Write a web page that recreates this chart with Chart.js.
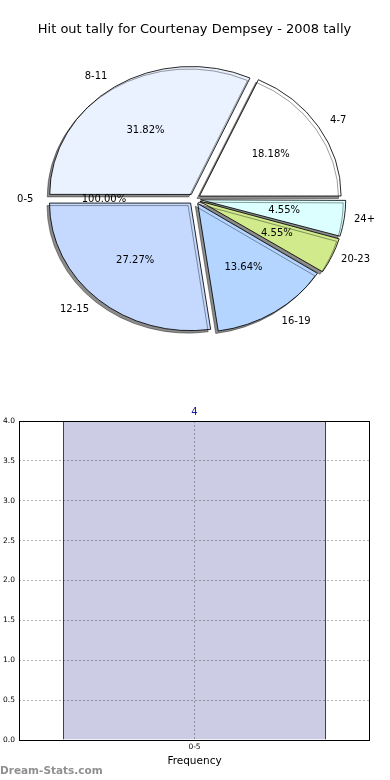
<!DOCTYPE html>
<html>
<head>
<meta charset="utf-8">
<script src="https://cdn.jsdelivr.net/npm/chart.js@4.4.1/dist/chart.umd.min.js"></script>
<style>
  html, body { margin: 0; padding: 0; background: #fff; }
  body { width: 390px; height: 780px; position: relative; overflow: hidden; font-family: 'DejaVu Sans', sans-serif; }
  .box { position: absolute; left: 0; width: 390px; }
  #pieBox { top: 0; height: 380px; }
  #barBox { top: 390px; height: 390px; }
  .watermark { position: absolute; left: 0; top: 764px; font: bold 10.5px 'DejaVu Sans', sans-serif; color: #909090; }
</style>
</head>
<body>
<div class="box" id="pieBox"><canvas id="pieChart"></canvas></div>
<div class="box" id="barBox"><canvas id="barChart"></canvas></div>
<div class="watermark">Dream-Stats.com</div>
<script>
// pie data, in the order the reference draws it (counter-clockwise from 3 o'clock)
const categories = ['4-7', '8-11', '0-5', '12-15', '16-19', '20-23', '24+'];
const tally = [4, 7, 0, 6, 3, 1, 1];
const pctText = ['18.18%', '31.82%', '100.00%', '27.27%', '13.64%', '4.55%', '4.55%'];
const sliceColors = ['#ffffff', '#eaf1ff', '#ffffff', '#c5d9ff', '#b4d5ff', '#d0ea8c', '#dcffff'];

// bar data
const barCategories = ['0-5'];
const frequency = [4];

Chart.defaults.font.family = "'DejaVu Sans', sans-serif";
Chart.defaults.color = '#000';

// chart.js goes clockwise, so feed the slices reversed
const rev = (a) => a.slice().reverse();
const xStretch = 1.106; // reference pie is an ellipse, wider than tall

const ellipsePlugin = {
  id: 'ellipse',
  beforeDatasetsDraw(chart) {
    const el = chart.getDatasetMeta(0).data[0];
    const ctx = chart.ctx;
    ctx.save();
    ctx.translate(el.x, el.y);
    ctx.scale(xStretch, 1);
    ctx.translate(-el.x, -el.y);
    ctx.shadowColor = 'rgba(0,0,0,0.45)';
    ctx.shadowOffsetX = -2.5;
    ctx.shadowOffsetY = 2.5;
    ctx.shadowBlur = 0.5;
  },
  afterDatasetsDraw(chart) {
    chart.ctx.restore();
  },
};

const pieLabels = {
  id: 'pieLabels',
  afterDraw(chart) {
    const ctx = chart.ctx;
    const pct = rev(pctText);
    const names = chart.data.labels;
    ctx.save();
    ctx.font = "10px 'DejaVu Sans', sans-serif";
    ctx.fillStyle = '#000';
    ctx.textBaseline = 'middle';
    chart.getDatasetMeta(0).data.forEach((el, i) => {
      const mid = (el.startAngle + el.endAngle) / 2;
      const c = Math.cos(mid), s = Math.sin(mid);
      const d = (el.options.offset || 0) / 4;
      const cx = el.x + d * c * xStretch;
      const cy = el.y + d * s;
      const r = el.outerRadius;
      ctx.textAlign = c > 0 ? 'left' : 'right';
      ctx.fillText(names[i], cx + 1.1 * r * c * xStretch, cy + 1.1 * r * s);
      ctx.textAlign = 'center';
      ctx.fillText(pct[i], cx + 0.6 * r * c * xStretch, cy + 0.6 * r * s);
    });
    ctx.restore();
  },
};

const framePlugin = {
  id: 'frame',
  afterDraw(chart) {
    const { ctx, chartArea: a } = chart;
    ctx.save();
    ctx.strokeStyle = '#000';
    ctx.lineWidth = 1;
    ctx.strokeRect(Math.round(a.left) + 0.5, Math.round(a.top) + 0.5,
      Math.round(a.right - a.left) - 1, Math.round(a.bottom - a.top));
    ctx.restore();
  },
};

const barValueLabel = {
  id: 'barValueLabel',
  afterDatasetsDraw(chart) {
    const ctx = chart.ctx;
    const ds = chart.data.datasets[0];
    ctx.save();
    ctx.font = "10px 'DejaVu Sans', sans-serif";
    ctx.fillStyle = '#1a1aa6';
    ctx.textAlign = 'center';
    ctx.textBaseline = 'middle';
    chart.getDatasetMeta(0).data.forEach((el, i) => {
      ctx.fillText(String(ds.data[i]), el.x, el.y - 9);
    });
    ctx.restore();
  },
};

function initPie() {
  new Chart(document.getElementById('pieChart'), {
    type: 'pie',
    data: {
      labels: rev(categories),
      datasets: [{
        data: rev(tally),
        backgroundColor: rev(sliceColors),
        borderColor: '#000',
        borderWidth: 0.8,
        offset: 21.6,
        hoverOffset: 0,
      }],
    },
    options: {
      responsive: true,
      maintainAspectRatio: false,
      animation: false,
      rotation: 90,
      radius: 127.5,
      layout: { padding: { top: 12, bottom: 29.6, left: 0, right: 1 } },
      plugins: {
        legend: { display: false },
        tooltip: { enabled: false },
        title: {
          display: true,
          text: 'Hit out tally for Courtenay Dempsey - 2008 tally',
          color: '#000',
          font: { size: 13, weight: 'normal' },
          padding: { top: 10, bottom: 10 },
        },
      },
    },
    plugins: [ellipsePlugin, pieLabels],
  });
}

function initBar() {
  new Chart(document.getElementById('barChart'), {
    type: 'bar',
    data: {
      labels: barCategories,
      datasets: [{
        data: frequency,
        backgroundColor: '#ccccE5',
        borderColor: '#000080',
        borderWidth: 1,
        barPercentage: 0.75,
        categoryPercentage: 1,
      }],
    },
    options: {
      responsive: true,
      maintainAspectRatio: false,
      animation: false,
      layout: { padding: { top: 31, right: 20, left: 0, bottom: 0 } },
      plugins: {
        legend: { display: false },
        tooltip: { enabled: false },
      },
      scales: {
        x: {
          grid: { z: 1, offset: false, drawTicks: false, color: 'rgba(0,0,0,0.3)', lineWidth: 1 },
          border: { display: false, dash: [2, 2] },
          ticks: { font: { size: 7.5 }, color: '#000', padding: 3 },
          title: {
            display: true,
            text: 'Frequency',
            color: '#000',
            font: { size: 10.5 },
            padding: { top: 0, bottom: 12.7 },
          },
          afterFit: (s) => { s.height = 40; },
        },
        y: {
          min: 0,
          max: 4,
          grid: { z: 1, drawTicks: false, color: 'rgba(0,0,0,0.3)', lineWidth: 1 },
          border: { display: false, dash: [2, 2] },
          ticks: {
            stepSize: 0.5,
            font: { size: 7.5 },
            color: '#000',
            padding: 4,
            callback: (v) => Number(v).toFixed(1),
          },
          afterFit: (s) => { s.width = 19; },
        },
      },
    },
    plugins: [barValueLabel, framePlugin],
  });
}

document.addEventListener('DOMContentLoaded', () => {
  initPie();
  initBar();
});
</script>
</body>
</html>
